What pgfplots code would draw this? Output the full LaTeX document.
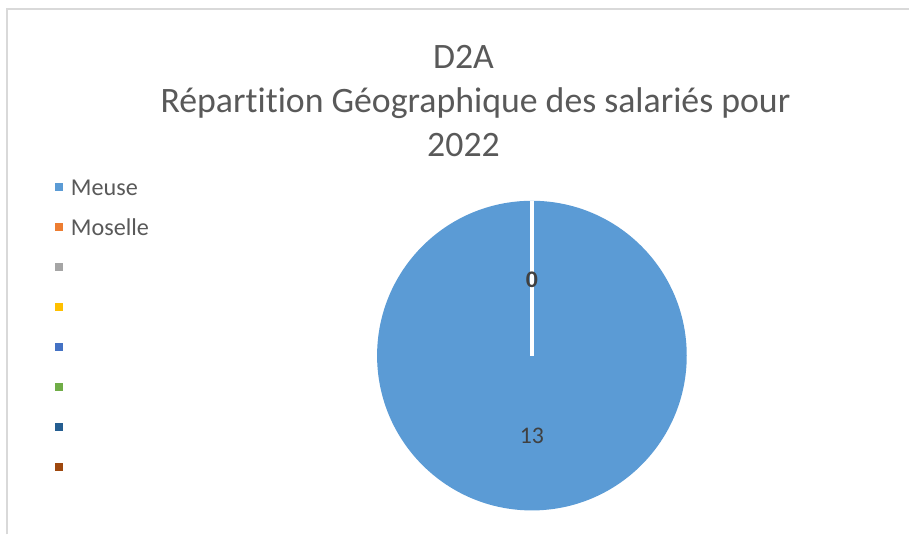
\documentclass[border=0pt]{standalone}
\usepackage{pgfplots}
\usepackage{pgfplotstable}
\pgfplotsset{compat=1.18}
\usepackage{fontspec}
\setmainfont{Carlito}[Ligatures=NoCommon]
\definecolor{c1}{HTML}{5B9BD5}
\definecolor{c2}{HTML}{ED7D31}
\definecolor{c3}{HTML}{A5A5A5}
\definecolor{c4}{HTML}{FFC000}
\definecolor{c5}{HTML}{4472C4}
\definecolor{c6}{HTML}{70AD47}
\definecolor{c7}{HTML}{255E91}
\definecolor{c8}{HTML}{9E480E}
\definecolor{txt}{HTML}{595959}
\definecolor{lbl}{HTML}{404040}
\definecolor{frm}{HTML}{D9D9D9}

\pgfplotstableread{
name value
Meuse 13
Moselle 0
}\piedata

\begin{document}
\begin{tikzpicture}
\pgfplotstablegetelem{0}{value}\of\piedata \edef\va{\pgfplotsretval}
\pgfplotstablegetelem{1}{value}\of\piedata \edef\vb{\pgfplotsretval}
\pgfmathsetmacro\tot{\va+\vb}
\pgfmathsetmacro\aS{90}
\pgfmathsetmacro\aM{90-360*\va/\tot}
\pgfmathsetmacro\aE{\aM-360*\vb/\tot}
\pgfmathsetmacro\mA{(\aS+\aM)/2}
\pgfmathsetmacro\mB{(\aM+\aE)/2}
\def\cx{532.5}\def\cy{179}\def\r{155}
\pgfmathsetmacro\lAx{\cx+0.52*\r*cos(\mA)}
\pgfmathsetmacro\lAy{\cy+0.52*\r*sin(\mA)}
\pgfmathsetmacro\lBx{\cx+0.49*\r*cos(\mB)}
\pgfmathsetmacro\lBy{\cy+0.49*\r*sin(\mB)}
\begin{axis}[x=0.5pt,y=0.5pt,xmin=0,xmax=910,ymin=0,ymax=535,
  hide axis, clip=false, scale only axis,
  legend style={at={(axis cs:55,368)}, anchor=north west, draw=none, fill=none,
    inner sep=0pt, font=\fontsize{12.1}{14}\selectfont, text=txt,
    row sep=0pt, nodes={inner sep=0pt, text height=14pt, text depth=6pt},
    /tikz/every odd column/.style={column sep=3.8pt}},
  legend cell align=left,
  legend image code/.code={\fill[#1,draw=none] (0pt,-2pt) rectangle (4pt,2pt);},
]
\path (axis cs:0,0) rectangle (axis cs:910,535);
\draw[frm, line width=1pt] (axis cs:7.5,0) -- (axis cs:7.5,525.5) -- (axis cs:910,525.5);
\fill[c1] (axis cs:\cx,\cy) -- ++(\aS:77.5pt) arc[start angle=\aS, end angle=\aM, radius=77.5pt] -- cycle;
\fill[c2] (axis cs:\cx,\cy) -- ++(\aM:77.5pt) arc[start angle=\aM, end angle=\aE, radius=77.5pt] -- cycle;
\draw[white, line width=2pt] (axis cs:\cx,\cy) -- ++(\aS:77.5pt);
\draw[white, line width=2pt] (axis cs:\cx,\cy) -- ++(\aM:77.5pt);
\node[text=lbl, font=\fontsize{11.9}{14}\selectfont] at (axis cs:\lAx,\lAy) {\va};
\node[text=lbl, font=\fontsize{11.9}{14}\selectfont\bfseries] at (axis cs:\lBx,\lBy) {\vb};
\node[align=center, text=txt, font=\fontsize{17.9}{22}\selectfont] at (axis cs:464,434)
  {D2A\\\hspace*{12pt}Répartition Géographique des salariés pour\\2022};
\addlegendimage{fill=c1}
\addlegendimage{fill=c2}
\addlegendimage{fill=c3}
\addlegendimage{fill=c4}
\addlegendimage{fill=c5}
\addlegendimage{fill=c6}
\addlegendimage{fill=c7}
\addlegendimage{fill=c8}
\legend{Meuse,Moselle,{~},{~},{~},{~},{~},{~}}
\end{axis}
\end{tikzpicture}
\end{document}
